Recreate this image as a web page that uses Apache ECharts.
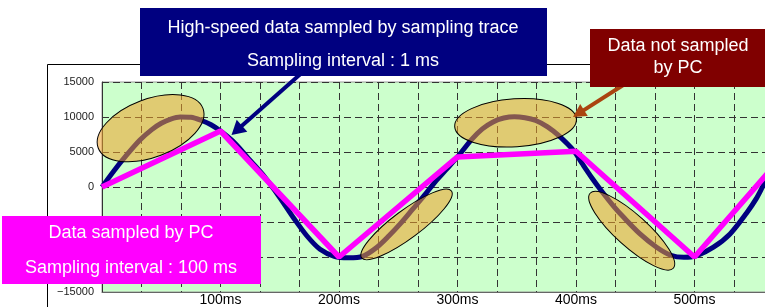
<!DOCTYPE html>
<html>
<head>
<meta charset="utf-8">
<script src="https://cdn.jsdelivr.net/npm/echarts@6/dist/echarts.min.js"></script>
<style>
  html, body { margin: 0; padding: 0; background: #fff; }
  #chart { width: 765px; height: 307px; }
</style>
</head>
<body>
<div id="chart"></div>
<script>
// sampling trace (1 ms)
const traceTimes = [0, 10, 20, 32, 42, 50, 58, 66, 75, 84, 92, 100, 112, 125, 137, 150, 162, 173, 184, 196, 208,
    220, 232, 242, 252, 262, 272, 281, 290, 301, 312, 321, 330, 339, 348, 357, 366, 376, 385, 398, 405, 413,
    423, 432, 440, 454, 468, 480, 491, 502, 516, 530, 544, 552, 560, 570];
const traceValues = [0, 2300, 4400, 6700, 8200, 9100, 9700, 10000, 9950, 9500, 8900, 8000, 6300, 3800, 1500, -1500, -4500, -7000, -8900, -9900, -10100,
    -9900, -8600, -7000, -5200, -3200, -1200, 700, 2400, 4500, 6800, 8300, 9300, 9850, 10050, 9900, 9500, 8600, 7400, 5200, 3400, 1400,
    -900, -2800, -4300, -6700, -8600, -9750, -10050, -9800, -8600, -6700, -3700, -1700, 800, 3300];

// PC sampling (100 ms)
const pcTimes = [0, 100, 200, 300, 400, 500, 600];
const pcValues = [0, 8000, -10000, 4300, 5100, -10000, 9400];

// highlighted stretches the PC misses
const missedTimes = [41, 257, 349, 447];
const missedValues = [8400, -5350, 9170, -6250];

const xTickLabels = ['', '100ms', '200ms', '300ms', '400ms', '500ms', '600ms'];
const yTickLabels = ['\u221215000', '\u221210000', '\u22125000', '0', '5000', '10000', '15000'];

// ellipse sizes (px) and tilt (deg)
const ELLIPSES = [
    {rx: 56, ry: 29, angle: 20.7},
    {rx: 56, ry: 14, angle: 36.7},
    {rx: 61, ry: 24, angle: 3.6},
    {rx: 56, ry: 16, angle: -42}
];

const FONT = '"Liberation Sans", Arial, sans-serif';
const NAVY = '#000080';
const MAROON = '#800000';
const MAGENTA = '#ff00ff';

function arrow(tail, tip, color, width, headLen, headHalf) {
    const dx = tip[0] - tail[0], dy = tip[1] - tail[1];
    const len = Math.sqrt(dx * dx + dy * dy);
    const ux = dx / len, uy = dy / len;
    const bx = tip[0] - ux * headLen, by = tip[1] - uy * headLen;
    return [
        {
            type: 'line', z: 50, silent: true,
            shape: {x1: tail[0], y1: tail[1], x2: bx + ux * 2, y2: by + uy * 2},
            style: {stroke: color, lineWidth: width}
        },
        {
            type: 'polygon', z: 50, silent: true,
            shape: {points: [tip, [bx - uy * headHalf, by + ux * headHalf], [bx + uy * headHalf, by - ux * headHalf]]},
            style: {fill: color}
        }
    ];
}

function box(x, y, w, h, color, lines) {
    const els = [{
        type: 'rect', z: 60, silent: true,
        shape: {x: x, y: y, width: w, height: h},
        style: {fill: color}
    }];
    lines.forEach(function (ln) {
        els.push({
            type: 'text', z: 61, silent: true,
            style: {
                text: ln.text, x: ln.x, y: ln.y, align: 'center', verticalAlign: 'middle',
                fill: '#fff', fontSize: 18, fontFamily: FONT
            }
        });
    });
    return els;
}

const chart = echarts.init(document.getElementById('chart'));

const gridLine = {type: [7, 4], color: '#333', width: 1};

const option = {
    animation: false,
    grid: {
        left: 102, top: 82, width: 711, height: 210,
        outerBoundsMode: 'none',
        show: true, backgroundColor: '#ccffcc', borderColor: '#999', borderWidth: 1
    },
    xAxis: {
        type: 'value', min: 0, max: 600, interval: 100,
        axisLine: {show: true, onZero: false, lineStyle: {color: '#666'}},
        axisTick: {show: false},
        axisLabel: {
            formatter: function (v) { return xTickLabels[Math.round(v / 100)] || ''; },
            color: '#000', fontSize: 14, fontFamily: FONT, margin: 1
        },
        splitLine: {show: true, lineStyle: gridLine},
        minorTick: {show: false, splitNumber: 3},
        minorSplitLine: {show: true, lineStyle: gridLine}
    },
    yAxis: {
        type: 'value', min: -15000, max: 15000, interval: 5000,
        axisLine: {show: true, lineStyle: {color: '#333'}},
        axisTick: {show: false},
        axisLabel: {
            formatter: function (v) { return yTickLabels[Math.round((v + 15000) / 5000)] || ''; },
            color: '#222', fontSize: 11, fontFamily: FONT, margin: 8
        },
        splitLine: {show: true, lineStyle: gridLine}
    },
    series: [
        {
            name: 'Sampling trace', type: 'line', z: 2,
            data: traceTimes.map(function (t, i) { return [t, traceValues[i]]; }),
            showSymbol: false, smooth: 0.3,
            lineStyle: {color: NAVY, width: 5}
        },
        {
            name: 'PC', type: 'line', z: 3,
            data: pcTimes.map(function (t, i) { return [t, pcValues[i]]; }),
            showSymbol: false,
            lineStyle: {color: MAGENTA, width: 5.5}
        },
        {
            name: 'Not sampled', type: 'custom', z: 4, silent: true, clip: false,
            data: missedTimes.map(function (t, i) { return [t, missedValues[i]]; }),
            renderItem: function (params, api) {
                const p = api.coord([api.value(0), api.value(1)]);
                const e = ELLIPSES[params.dataIndex];
                return {
                    type: 'ellipse',
                    x: p[0], y: p[1],
                    rotation: e.angle * Math.PI / 180,
                    shape: {cx: 0, cy: 0, rx: e.rx, ry: e.ry},
                    style: {fill: 'rgba(240,160,40,0.55)', stroke: '#000', lineWidth: 1}
                };
            }
        }
    ],
    graphic: [].concat(
        [{
            type: 'rect', z: 1, silent: true,
            shape: {x: 47.5, y: 64.5, width: 800, height: 300},
            style: {fill: 'none', stroke: '#000', lineWidth: 1}
        }],
        arrow([305, 70], [231.5, 135], NAVY, 4, 14, 8),
        arrow([628, 82], [573, 117], '#aa4410', 4, 13, 7),
        box(140, 8, 407, 68, NAVY, [
            {text: 'High-speed data sampled by sampling trace', x: 343, y: 28},
            {text: 'Sampling interval : 1 ms', x: 343, y: 61}
        ]),
        box(590, 29, 176, 58, MAROON, [
            {text: 'Data not sampled', x: 678, y: 46},
            {text: 'by PC', x: 678, y: 68}
        ]),
        box(2, 216, 259, 68, MAGENTA, [
            {text: 'Data sampled by PC', x: 131, y: 233},
            {text: 'Sampling interval : 100 ms', x: 131, y: 268}
        ])
    )
};

chart.setOption(option);

window.addEventListener('resize', function () {
    chart.resize();
});
</script>
</body>
</html>
